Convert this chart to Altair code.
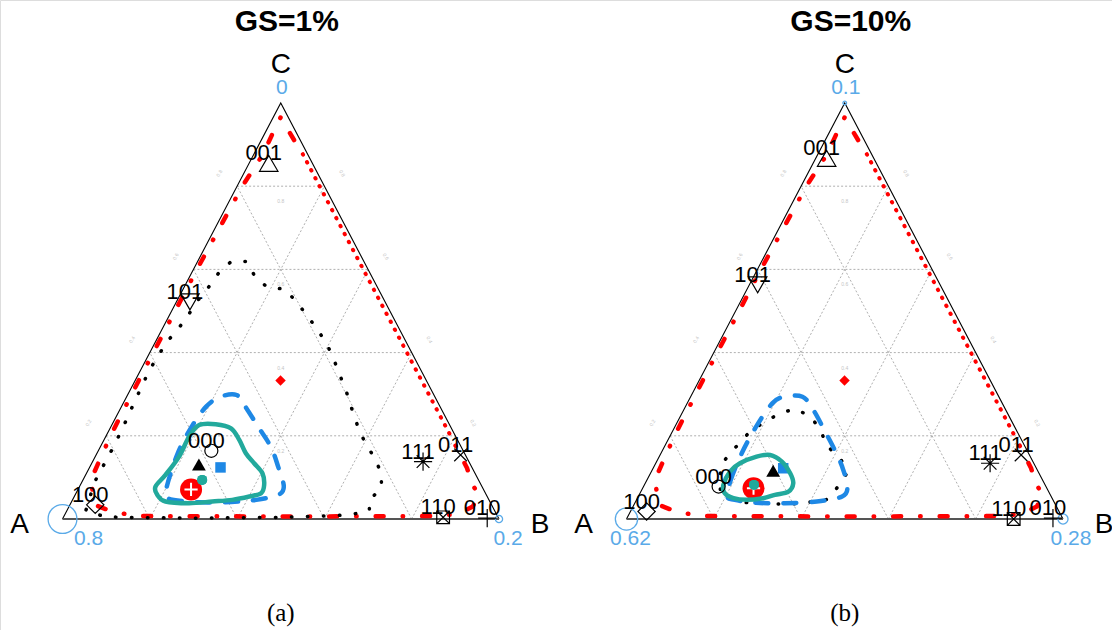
import altair as alt
import pandas as pd

# ---------------------------------------------------------------- data
PANELS = ["GS=1%", "GS=10%"]
CAPTIONS = ["(a)", "(b)"]

VERTEX_NAMES = ["A", "B", "C"]
VERTEX_WEIGHTS = [[0.8, 0.2, 0.0], [0.62, 0.28, 0.1]]
VERTEX_LABELS = [["0.8", "0.2", "0"], ["0.62", "0.28", "0.1"]]

GRID_LEVELS = [0.2, 0.4, 0.6, 0.8]

# ternary coordinates (b, c); a = 1 - b - c
CODES = ["000", "001", "010", "011", "100", "101", "110", "111"]
CODE_B = [[0.259, 0.045, 0.972, 0.835, 0.058, 0.031, 0.870, 0.757],
          [0.172, 0.025, 0.976, 0.827, 0.037, 0.019, 0.887, 0.766]]
CODE_C = [[0.164, 0.855, 0.002, 0.154, 0.034, 0.522, 0.004, 0.138],
          [0.078, 0.867, 0.002, 0.154, 0.018, 0.563, 0.000, 0.134]]

POINT_KEYS = ["centre", "target", "blue", "black", "teal"]
POINT_B = [[0.333, 0.259, 0.300, 0.247, 0.273],
           [0.333, 0.254, 0.298, 0.278, 0.251]]
POINT_C = [[0.333, 0.071, 0.124, 0.131, 0.094],
           [0.333, 0.074, 0.122, 0.116, 0.082]]

TEAL_B = [[0.200, 0.237, 0.277, 0.310, 0.341, 0.372, 0.403, 0.421, 0.424, 0.401,
           0.366, 0.322, 0.271, 0.215, 0.188, 0.174, 0.183, 0.192, 0.191],
          [0.180, 0.193, 0.223, 0.252, 0.287, 0.320, 0.339, 0.338, 0.311, 0.288,
           0.252, 0.220, 0.194, 0.181]]
TEAL_C = [[0.226, 0.228, 0.218, 0.190, 0.158, 0.134, 0.110, 0.082, 0.062, 0.054,
           0.046, 0.042, 0.038, 0.042, 0.058, 0.078, 0.106, 0.150, 0.198],
          [0.114, 0.134, 0.150, 0.154, 0.138, 0.110, 0.086, 0.066, 0.058, 0.050,
           0.046, 0.050, 0.062, 0.082]]

BLUE_B = [[0.212, 0.200, 0.185, 0.185, 0.194, 0.215, 0.250, 0.284, 0.337, 0.390,
           0.431, 0.468, 0.465, 0.421, 0.366, 0.293, 0.232],
          [0.204, 0.192, 0.185, 0.186, 0.195, 0.215, 0.256, 0.297, 0.346, 0.394,
           0.431, 0.467, 0.467, 0.415, 0.344, 0.277, 0.225]]
BLUE_C = [[0.054, 0.078, 0.158, 0.222, 0.270, 0.294, 0.298, 0.270, 0.222, 0.174,
           0.126, 0.078, 0.058, 0.046, 0.041, 0.040, 0.046],
          [0.054, 0.094, 0.158, 0.222, 0.278, 0.294, 0.294, 0.262, 0.214, 0.166,
           0.126, 0.078, 0.054, 0.042, 0.038, 0.039, 0.046]]

BLACK_B = [[0.043, 0.029, 0.030, 0.029, 0.027, 0.024, 0.022, 0.020, 0.023, 0.026,
            0.036, 0.043, 0.047, 0.056, 0.062, 0.077, 0.114, 0.151, 0.193, 0.233,
            0.276, 0.316, 0.358, 0.396, 0.432, 0.466, 0.499, 0.531, 0.564, 0.599,
            0.638, 0.674, 0.694, 0.680, 0.693, 0.658, 0.619, 0.500, 0.400, 0.311,
            0.200, 0.094],
           [0.155, 0.165, 0.177, 0.196, 0.222, 0.252, 0.296, 0.338, 0.370, 0.413,
            0.450, 0.446, 0.437, 0.399, 0.363, 0.328, 0.284, 0.244, 0.196, 0.182,
            0.161]]
BLACK_C = [[0.022, 0.089, 0.168, 0.206, 0.244, 0.282, 0.320, 0.357, 0.392, 0.426,
            0.454, 0.490, 0.524, 0.557, 0.591, 0.619, 0.619, 0.581, 0.556, 0.553,
            0.521, 0.489, 0.454, 0.420, 0.381, 0.342, 0.304, 0.264, 0.224, 0.186,
            0.150, 0.112, 0.074, 0.046, 0.020, 0.011, 0.008, 0.004, 0.003, 0.002,
            0.003, 0.005],
           [0.144, 0.176, 0.208, 0.230, 0.252, 0.265, 0.248, 0.214, 0.176, 0.150,
            0.112, 0.079, 0.047, 0.041, 0.036, 0.036, 0.038, 0.040, 0.054, 0.066,
            0.106]]

RED_DASHDOT_B = [0.075, 0.044, 0.017, 0.0175, 0.021, 0.012, 0.008, 0.008, 0.010,
                 0.018, 0.057, 0.107, 0.171, 0.500, 0.850, 0.900, 0.925, 0.925,
                 0.894, 0.866, 0.785]
RED_DASHDOT_C = [0.911, 0.940, 0.966, 0.935, 0.877, 0.800, 0.600, 0.350, 0.200,
                 0.094, 0.034, 0.017, 0.007, 0.006, 0.007, 0.012, 0.030, 0.058,
                 0.086, 0.122, 0.204]
RED_DOTTED_B = [0.112, 0.785]
RED_DOTTED_C = [0.877, 0.204]

# ---------------------------------------------------------------- geometry
W_PX = 436.5            # triangle base, px
H_PX = 416.0            # triangle height, px
PANEL_SHIFT = 564 / W_PX
X_DOMAIN = [-62.5 / W_PX, (1112 - 62.5) / W_PX]
Y_DOMAIN = [-(630 - 519) / H_PX, 519 / H_PX]

RED = "#FF0000"
TEAL = "#22A99C"
BLUE = "#1E88E5"
LIGHT_BLUE = "#5AAAE8"
SANS = "Liberation Sans"


def tx(p, b, c, dx=0.0):
    return p * PANEL_SHIFT + b + c / 2 + dx / W_PX


def ty(c, dy=0.0):
    return c - dy / H_PX


def curve_frame(name, bs_by_panel, cs_by_panel):
    rows = []
    for p, (bs, cs) in enumerate(zip(bs_by_panel, cs_by_panel)):
        for i, (b, c) in enumerate(zip(bs, cs)):
            rows.append(dict(curve=f"{name}-{p}", i=i, x=tx(p, b, c), y=ty(c)))
    return pd.DataFrame(rows)


xs = alt.Scale(domain=X_DOMAIN, nice=False, zero=False)
ys = alt.Scale(domain=Y_DOMAIN, nice=False, zero=False)
X = alt.X("x:Q", scale=xs, axis=None)
Y = alt.Y("y:Q", scale=ys, axis=None)


def lines(df, **mark):
    return alt.Chart(df).mark_line(**mark).encode(
        x=X, y=Y, detail="curve:N", order="i:Q")


# grid
grid_rows = []
for p in range(len(PANELS)):
    for k in GRID_LEVELS:
        segs = {"c": [(0, k), (1 - k, k)],
                "b": [(k, 0), (k, 1 - k)],
                "a": [(1 - k, 0), (0, 1 - k)]}
        for key, pts in segs.items():
            for i, (b, c) in enumerate(pts):
                grid_rows.append(dict(curve=f"{p}-{key}-{k}", i=i,
                                      x=tx(p, b, c), y=ty(c)))
grid = lines(pd.DataFrame(grid_rows), color="#9a9a9a", strokeWidth=0.8,
             strokeDash=[2, 2])

# triangle outline
frame_rows = []
for p in range(len(PANELS)):
    for i, (b, c) in enumerate([(0, 0), (0, 1), (1, 0)]):
        frame_rows.append(dict(curve=f"f{p}", i=i, x=tx(p, b, c), y=ty(c)))
frame = lines(pd.DataFrame(frame_rows), color="black", strokeWidth=1.1)
base_rows = []
for p in range(len(PANELS)):
    for i, b in enumerate([0, 1]):
        base_rows.append(dict(curve=f"base{p}", i=i, x=tx(p, b, 0), y=0.0))
base_line = lines(pd.DataFrame(base_rows), color="#555555", strokeWidth=1.8)

# contours
both = range(len(PANELS))
red_dd = lines(curve_frame("rdd", [RED_DASHDOT_B for _ in both],
                           [RED_DASHDOT_C for _ in both]),
               color=RED, strokeWidth=4.5, strokeCap="round",
               strokeDash=[8, 19, 0.5, 19])
red_dot = lines(curve_frame("rdot", [RED_DOTTED_B for _ in both],
                            [RED_DOTTED_C for _ in both]),
                color=RED, strokeWidth=4, strokeCap="round",
                strokeDash=[0.5, 8.5])
black_dot = lines(curve_frame("black", BLACK_B, BLACK_C), color="black",
                  strokeWidth=3.5, strokeCap="round", strokeDash=[0.5, 15.5],
                  interpolate="linear-closed")
blue_dash = lines(curve_frame("blue", BLUE_B, BLUE_C), color=BLUE,
                  strokeWidth=4.5, strokeCap="round", strokeDash=[13, 15],
                  interpolate="cardinal-closed")
teal_line = lines(curve_frame("teal", TEAL_B, TEAL_C), color=TEAL,
                  strokeWidth=4.5, interpolate="cardinal-closed")

# filled estimate markers
PLUS = "M-1,0L1,0M0,-1L0,1"
XMARK = "M-0.7,-0.7L0.7,0.7M-0.7,0.7L0.7,-0.7"
BOXX = "M-0.7,-0.7L0.7,-0.7L0.7,0.7L-0.7,0.7ZM-0.7,-0.7L0.7,0.7M-0.7,0.7L0.7,-0.7"
POINT_STYLE = {"centre": ("diamond", 110, RED),
               "target": ("circle", 484, RED),
               "blue": ("square", 110, BLUE),
               "black": ("triangle-up", 190, "black"),
               "teal": ("circle", 100, TEAL)}
pt_rows = []
for p in both:
    for key, b, c in zip(POINT_KEYS, POINT_B[p], POINT_C[p]):
        shape, size, fill = POINT_STYLE[key]
        pt_rows.append(dict(key=key, x=tx(p, b, c), y=ty(c), shape=shape,
                            size=size, fill=fill))
pt_df = pd.DataFrame(pt_rows)
points = alt.Chart(pt_df).mark_point(filled=True, opacity=1, strokeWidth=0).encode(
    x=X, y=Y,
    shape=alt.Shape("shape:N", scale=None),
    size=alt.Size("size:Q", scale=None),
    fill=alt.Fill("fill:N", scale=None))
cross = alt.Chart(pt_df[pt_df.key == "target"]).mark_point(
    shape="M-0.6,0L0.6,0M0,-0.6L0,0.6", size=484, filled=False, color="white",
    strokeWidth=2, opacity=1).encode(x=X, y=Y)
teal_dot = alt.Chart(pt_df[pt_df.key == "teal"]).mark_point(
    shape="circle", size=100, filled=True, color=TEAL, opacity=1).encode(x=X, y=Y)

# vertex weight circles
vc_rows = []
VB = [0, 1, 0]
VC = [0, 0, 1]
for p in both:
    for v, w in zip(range(3), VERTEX_WEIGHTS[p]):
        if w > 0:
            vc_rows.append(dict(x=tx(p, VB[v], VC[v]), y=ty(VC[v]),
                                size=(36 * w) ** 2))
vcircles = alt.Chart(pd.DataFrame(vc_rows)).mark_point(
    shape="circle", filled=False, color=LIGHT_BLUE, strokeWidth=1.3,
    opacity=1).encode(x=X, y=Y, size=alt.Size("size:Q", scale=None))

# open code markers and their labels
CODE_STYLE = {"000": ("circle", 170), "001": ("triangle-up", 340),
              "010": (PLUS, 330), "011": (XMARK, 330), "100": ("diamond", 300),
              "101": ("triangle-down", 340), "110": (BOXX, 330),
              "111": (PLUS + XMARK, 330)}
cm_rows, cl_rows = [], []
for p in both:
    for code, b, c in zip(CODES, CODE_B[p], CODE_C[p]):
        shape, size = CODE_STYLE[code]
        cm_rows.append(dict(x=tx(p, b, c), y=ty(c), shape=shape, size=size))
        cl_rows.append(dict(x=tx(p, b, c, -5), y=ty(c, -10), text=code))
code_marks = alt.Chart(pd.DataFrame(cm_rows)).mark_point(
    filled=False, color="black", strokeWidth=1.2, opacity=1).encode(
    x=X, y=Y, shape=alt.Shape("shape:N", scale=None),
    size=alt.Size("size:Q", scale=None))


def texts(rows, **mark):
    return alt.Chart(pd.DataFrame(rows)).mark_text(
        align="center", baseline="middle", **mark).encode(
        x=X, y=Y, text="text:N")


code_labels = texts(cl_rows, font=SANS, fontSize=22, color="black")

# vertex letters, weight labels, titles, captions
LETTER_OFFSET = {"A": (-43, 6), "B": (41, 6), "C": (0, -38)}
WEIGHT_OFFSET = [{"A": (26, 20), "B": (9, 20), "C": (1, -15)},
                 {"A": (4, 20), "B": (8, 20), "C": (1, -15)}]
let_rows, wt_rows, title_rows, cap_rows = [], [], [], []
for p in both:
    for v, name in enumerate(VERTEX_NAMES):
        dx, dy = LETTER_OFFSET[name]
        let_rows.append(dict(x=tx(p, VB[v], VC[v], dx), y=ty(VC[v], dy), text=name))
        dx, dy = WEIGHT_OFFSET[p][name]
        wt_rows.append(dict(x=tx(p, VB[v], VC[v], dx), y=ty(VC[v], dy),
                            text=VERTEX_LABELS[p][v]))
    title_rows.append(dict(x=tx(p, 0, 1, 6), y=ty(1, -81), text=PANELS[p]))
    cap_rows.append(dict(x=tx(p, 0.5, 0), y=ty(0, 94), text=CAPTIONS[p]))

letters = texts(let_rows, font=SANS, fontSize=28, color="black")
weights = texts(wt_rows, font=SANS, fontSize=21, color=LIGHT_BLUE)
titles = texts(title_rows, font=SANS, fontSize=30, fontWeight="bold", color="black")
captions = texts(cap_rows, font="Liberation Serif", fontSize=25, color="black")

# faint grid value labels
gl_left, gl_right, gl_mid = [], [], []
for p in both:
    for k in GRID_LEVELS:
        lab = f"{k:.1f}"
        gl_left.append(dict(x=tx(p, 0, k, -18), y=ty(k, -13), text=lab))
        gl_right.append(dict(x=tx(p, 1 - k, k, 18), y=ty(k, -13), text=lab))
        gl_mid.append(dict(x=tx(p, (1 - k) / 2, k), y=ty(k, 15), text=lab))
faint = dict(font=SANS, fontSize=5, color="#c4c4c4")
grid_left = texts(gl_left, angle=300, **faint)
grid_right = texts(gl_right, angle=60, **faint)
grid_mid = texts(gl_mid, **faint)

chart = alt.layer(
    grid, grid_left, grid_right, grid_mid, frame, base_line,
    red_dd, red_dot, black_dot, blue_dash,
    points, cross, teal_dot, teal_line,
    vcircles, code_marks, code_labels,
    letters, weights, titles, captions,
).properties(
    width=1112, height=630,
    autosize=alt.AutoSizeParams(type="none"),
    padding=0,
).configure_view(stroke=None).configure(background="white")

chart.save("out.html", embed_options={"renderer": "svg", "actions": False})
